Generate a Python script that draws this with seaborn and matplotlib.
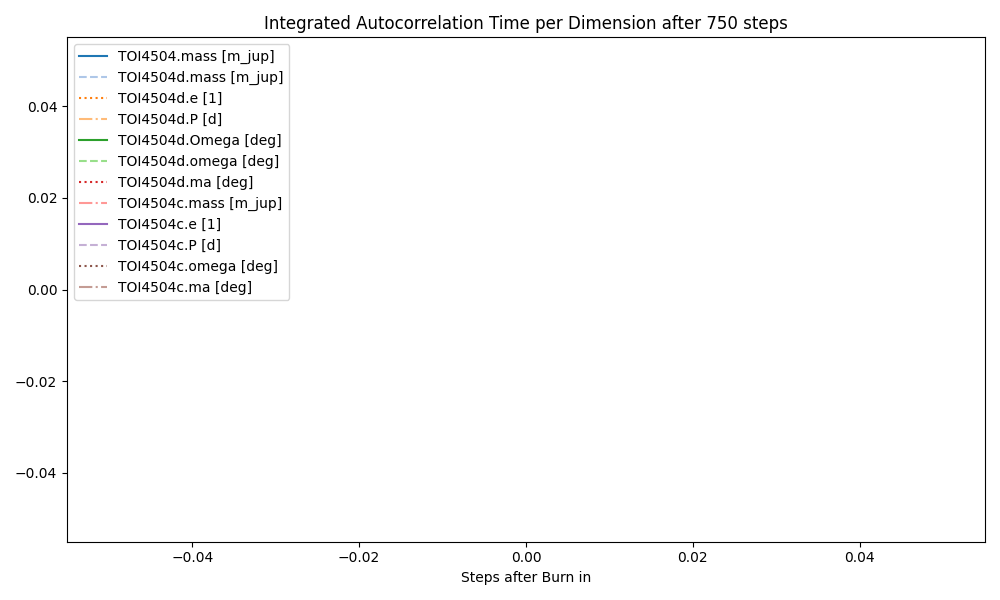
import numpy as np
import seaborn as sns
import matplotlib
matplotlib.use("Agg")
import matplotlib.pyplot as plt

# parameter names (legend entries)
param_names = [
    "TOI4504.mass [m_jup]",
    "TOI4504d.mass [m_jup]",
    "TOI4504d.e [1]",
    "TOI4504d.P [d]",
    "TOI4504d.Omega [deg]",
    "TOI4504d.omega [deg]",
    "TOI4504d.ma [deg]",
    "TOI4504c.mass [m_jup]",
    "TOI4504c.e [1]",
    "TOI4504c.P [d]",
    "TOI4504c.omega [deg]",
    "TOI4504c.ma [deg]",
]
n_steps = 750

# no autocorrelation estimates were recorded: every series is empty
steps = np.array([], dtype=float)
tau_values = [np.array([], dtype=float) for _ in param_names]

line_styles = ["-", "--", ":", "-."]
colors = sns.color_palette("tab20", 20)

fig, ax = plt.subplots(figsize=(10, 6), dpi=100)
for i, (name, tau) in enumerate(zip(param_names, tau_values)):
    ax.plot(steps, tau, linestyle=line_styles[i % 4], color=colors[i], label=name)

ax.set_title(f"Integrated Autocorrelation Time per Dimension after {n_steps} steps")
ax.set_xlabel("Steps after Burn in")
ax.legend(loc="upper left")
plt.tight_layout()
plt.savefig("out.png")
